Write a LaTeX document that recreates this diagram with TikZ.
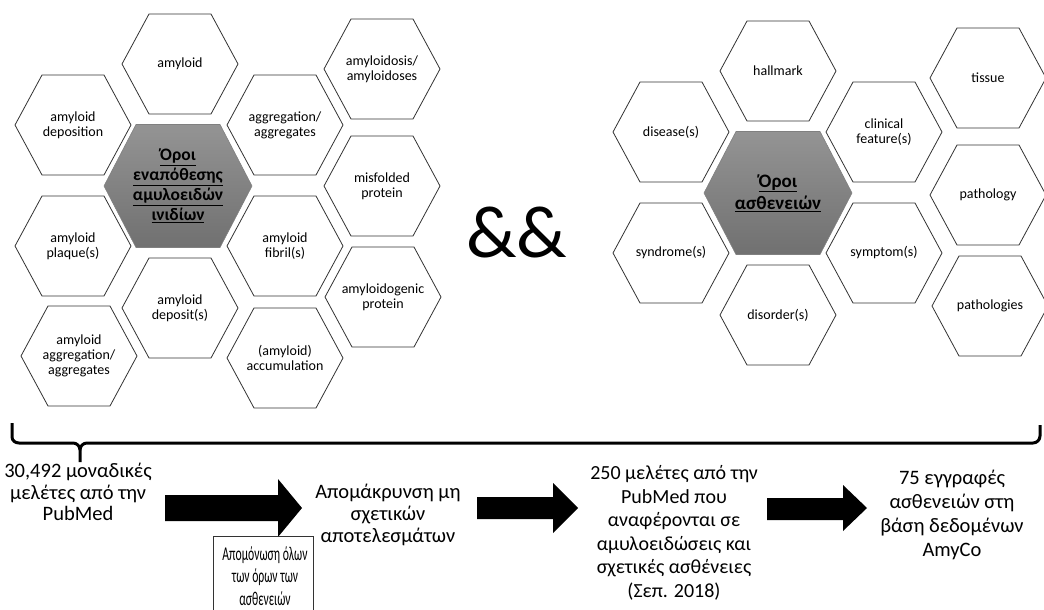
\documentclass[tikz,border=0pt]{standalone}
\usepackage{fontspec}
\setmainfont{Carlito}
\usetikzlibrary{calc}
\tikzset{
  hexline/.style={draw=black!80, line width=0.8pt, fill=white},
  hextext/.style={align=center, font=\fontsize{14}{14.8}\selectfont, inner sep=0pt},
  coretext/.style={align=center, font=\bfseries\fontsize{17.5}{20}\selectfont, inner sep=0pt},
  coretextb/.style={align=center, font=\bfseries\fontsize{19}{22}\selectfont, inner sep=0pt},
  corefill/.style={draw=black!50, line width=0.6pt, top color=black!42, bottom color=black!56},
  flowtext/.style={align=center, font=\fontsize{20.5}{22}\selectfont, inner sep=0pt},
  blockarrow/.style={fill=black, draw=none},
  bracestyle/.style={line width=3pt, line join=round},
}
\newcommand{\hexcell}[4]{%
  \draw[hexline, shift={(#2,#3)}] (-58,0) -- (-31,-50) -- (31,-50) -- (58,0) -- (31,50) -- (-31,50) -- cycle;
  \node[hextext] (#1) at (#2,#3) {#4};}
\newcommand{\corecell}[5]{%
  \draw[corefill, shift={(#2,#3)}] (-74,0) -- (-42,-61.5) -- (42,-61.5) -- (74,0) -- (42,61.5) -- (-42,61.5) -- cycle;
  \node[#5] (#1) at (#2,#3) {#4};}
\begin{document}
\begin{tikzpicture}[x=1pt,y=-1pt]
\useasboundingbox (0,0) rectangle (1044,610);
% left group
\corecell{coreA}{178}{186}{\underline{Όροι}\\\underline{εναπόθεσης}\\\underline{αμυλοειδών}\\\underline{ινιδίων}}{coretext}
\hexcell{amyloid}{180}{64}{amyloid}
\hexcell{adep}{73}{125}{amyloid\\deposition}
\hexcell{aggr}{285}{125}{aggregation/\\aggregates}
\hexcell{plaque}{73}{246}{amyloid\\plaque(s)}
\hexcell{deposit}{180}{308}{amyloid\\deposit(s)}
\hexcell{aagg}{79}{356}{amyloid\\aggregation/\\aggregates}
\hexcell{fibril}{285}{246}{amyloid\\fibril(s)}
\hexcell{accum}{285}{358}{(amyloid)\\accumulation}
\hexcell{amyloidosis}{382}{69}{amyloidosis/\\amyloidoses}
\hexcell{misfolded}{382}{186}{misfolded\\protein}
\hexcell{amyloidogenic}{383}{297}{amyloidogenic\\protein}
% ampersand
\node[inner sep=0pt, font=\fontsize{74}{80}\selectfont] (amp) at (517,232) {\&\&};
% right group
\corecell{coreB}{778}{193}{\underline{Όροι}\\\underline{ασθενειών}}{coretextb}
\hexcell{hallmark}{778}{71}{hallmark}
\hexcell{disease}{671}{132}{disease(s)}
\hexcell{clinical}{884}{132}{clinical\\feature(s)}
\hexcell{syndrome}{671}{253}{syndrome(s)}
\hexcell{symptom}{884}{253}{symptom(s)}
\hexcell{disorder}{778}{315}{disorder(s)}
\hexcell{tissue}{988}{78}{tissue}
\hexcell{pathology}{988}{195}{pathology}
\hexcell{pathologies}{990}{306}{pathologies}
% brace
\coordinate (bl) at (12,423);
\coordinate (br) at (1040,425);
\coordinate (btip) at (80,462);
\draw[bracestyle] (bl) -- (12,437) to[out=-90,in=180] (19,443) -- (73,443) to[out=0,in=90] (80,450) -- (btip);
\draw[bracestyle] (80,450) to[out=90,in=180] (87,443) -- (1033,443) to[out=0,in=-90] (1040,436) -- (br);
% flow
\node[flowtext, font=\fontsize{20.5}{21.5}\selectfont] (t1) at (78,492) {30,492 μοναδικές\\μελέτες από την\\PubMed};
\node[flowtext] (t2) at (388,515) {Απομάκρυνση μη\\σχετικών\\αποτελεσμάτων};
\node[flowtext, font=\fontsize{20}{23.5}\selectfont] (t3) at (674,533) {250 μελέτες από την\\PubMed που\\αναφέρονται σε\\αμυλοειδώσεις και\\σχετικές ασθένειες\\(Σεπ. 2018)};
\node[flowtext, font=\fontsize{20.5}{24}\selectfont] (t4) at (952,515) {75 εγγραφές\\ασθενειών στη\\βάση δεδομένων\\AmyCo};
\fill[blockarrow] (165,495) -- (278,495) -- (278,479) -- (302,508) -- (278,537) -- (278,521) -- (165,521) -- cycle;
\fill[blockarrow] (477,497) -- (553,497) -- (553,483) -- (578,508) -- (553,533) -- (553,519) -- (477,519) -- cycle;
\fill[blockarrow] (767,498) -- (843,498) -- (843,485) -- (867,508) -- (843,531) -- (843,520) -- (767,520) -- cycle;
\draw[black!80, line width=0.8pt] (213,612) -- (213,536) -- (313,536) -- (313,612);
\node[flowtext, font=\fontsize{19.5}{22.5}\selectfont, xscale=0.6, transform shape] (iso) at (265,576) {Απομόνωση όλων\\των όρων των\\ασθενειών};
\end{tikzpicture}
\end{document}
